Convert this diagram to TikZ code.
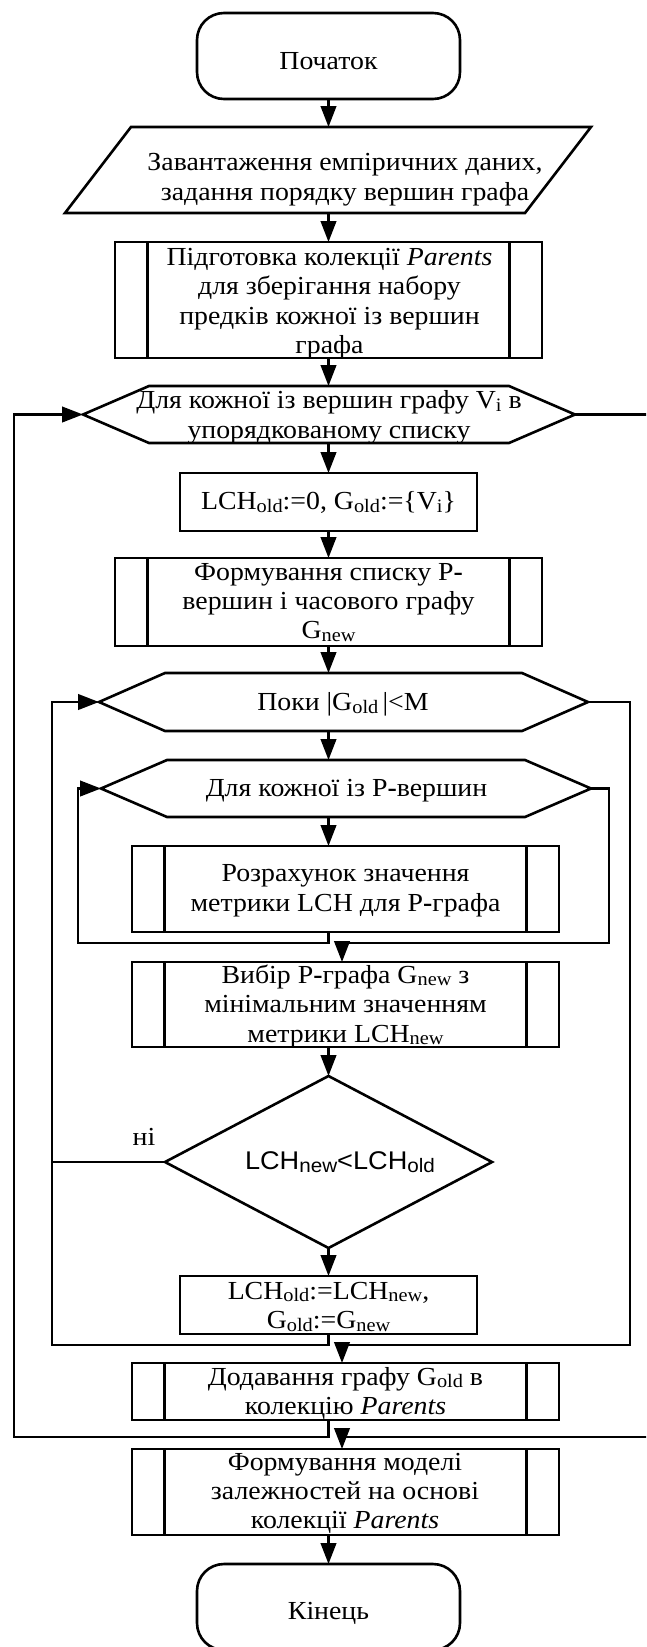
\documentclass[tikz,border=0pt]{standalone}
\usepackage{fontspec}
\setmainfont{Liberation Serif}[FakeStretch=1.07]
\newfontfamily\diagsans{Liberation Sans}[FakeStretch=1.06]
\usetikzlibrary{arrows.meta,calc}

% lowered small index text (serif and sans)
\newcommand\sbs[1]{\raisebox{-2.5pt}{\fontsize{19}{19}\selectfont #1}}
\newcommand\ssbs[1]{\raisebox{-2.5pt}{\fontsize{19.5}{19.5}\selectfont #1}}
% heavy hyphen
\newcommand\hy{\textbf{-}}
% hexagonal loop header drawn around an invisible frame node
\newcommand\hexframe[2]{%
  \draw[frame] (#1.west) -- ([xshift=#2]#1.north west) -- ([xshift=-#2]#1.north east)
    -- (#1.east) -- ([xshift=-#2]#1.south east) -- ([xshift=#2]#1.south west) -- cycle;}

\begin{document}
\begin{tikzpicture}[x=1pt,y=-1pt,
  every node/.style={inner sep=0pt,outer sep=0pt},
  frame/.style={draw,line width=2.6pt},
  term/.style={frame,rounded corners=27pt,minimum width=263pt,minimum height=86pt},
  procbox/.style={frame,minimum width=297pt},
  subbox/.style={frame,minimum width=427pt,
    path picture={
      \draw[line width=2.6pt] ([xshift=32.5pt]path picture bounding box.north west)
        -- ([xshift=32.5pt]path picture bounding box.south west);
      \draw[line width=2.6pt] ([xshift=-32.5pt]path picture bounding box.north east)
        -- ([xshift=-32.5pt]path picture bounding box.south east);}},
  lbl/.style={align=center,font=\fontsize{26}{29.3}\selectfont},
  sanslbl/.style={font=\diagsans\fontsize{25.6}{29.3}\selectfont},
  conn/.style={line width=2.6pt},
  arr/.style={conn,-{Triangle[length=21pt,width=15.5pt]}}
]
\fill[white] (0,0) rectangle (646,1647);
\useasboundingbox (0,0) rectangle (646,1647);
\clip (0,0) rectangle (646,1647);

% columns for the main flow and for the merging arrows
\coordinate (col) at (328.5,0);
\coordinate (mx) at (342,0);

% ---- shapes ----
\node[term] (start) at (328.5,56) {};
\node[lbl] (tstart) at (328.5,64.1) {\strut Початок};

\node[minimum width=526pt,minimum height=86pt] (load) at (328,170) {};
\draw[frame] ([xshift=66pt]load.north west) -- (load.north east)
  -- ([xshift=-66pt]load.south east) -- (load.south west) -- cycle;
\node[lbl] (tload) at (345,179.5)
  {\strut Завантаження емпіричних даних,\\\strut задання порядку вершин графа};

\node[subbox,minimum height=116pt] (prep) at (328.5,300) {};
\node[lbl] (tprep) at (329.5,303.5)
  {\strut Підготовка колекції \textit{Parents}\\\strut для зберігання набору\\
   \strut предків кожної із вершин\\\strut графа};

\node[minimum width=492pt,minimum height=57pt] (loopA) at (329,414.5) {};
\hexframe{loopA}{66pt}
\node[lbl] (tloopA) at (329,417.5)
  {\strut Для кожної із вершин графу V\sbs{i} в\\\strut упорядкованому списку};

\node[procbox,minimum height=58pt] (init) at (328.5,502) {};
\node[lbl] (tinit) at (328.5,504.1)
  {\strut LCH\sbs{old}:=0, G\sbs{old}:=\{V\sbs{i}\}};

\node[subbox,minimum height=88pt] (form) at (328.5,602) {};
\node[lbl] (tform) at (328.5,603.6)
  {\strut Формування списку Р\hy\\\strut вершин і часового графу\\\strut G\sbs{new}};

\node[minimum width=489pt,minimum height=58pt] (loopB) at (343.5,702) {};
\hexframe{loopB}{66pt}
\node[lbl] (tloopB) at (343,704.8) {\strut Поки |G\sbs{old}\,|<M};

\node[minimum width=490pt,minimum height=57pt] (loopC) at (346,788.5) {};
\hexframe{loopC}{66pt}
\node[lbl] (tloopC) at (346.5,790.8) {\strut Для кожної із Р\hy вершин};

\node[subbox,minimum height=86pt] (calc) at (345.5,889) {};
\node[lbl] (tcalc) at (345.5,890.6)
  {\strut Розрахунок значення\\\strut метрики LCH для Р\hy графа};

\node[subbox,minimum height=85pt] (pick) at (345.5,1004.5) {};
\node[lbl] (tpick) at (345.5,1006.9)
  {\strut Вибір Р\hy графа G\sbs{new} з\\\strut мінімальним значенням\\
   \strut метрики LCH\sbs{new}};

\node[minimum width=327pt,minimum height=172pt] (dec) at (328.5,1162) {};
\draw[frame] (dec.north) -- (dec.east) -- (dec.south) -- (dec.west) -- cycle;
\node[sanslbl] (tdec) at (340,1164.1) {\strut LCH\ssbs{new}<LCH\ssbs{old}};

\node[procbox,minimum height=58pt] (upd) at (328.5,1305) {};
\node[lbl] (tupd) at (328.5,1308.2)
  {\strut LCH\sbs{old}:=LCH\sbs{new},\\\strut G\sbs{old}:=G\sbs{new}};

\node[subbox,minimum height=57pt] (add) at (345.5,1391.5) {};
\node[lbl] (tadd) at (345.5,1393.9)
  {\strut Додавання графу G\sbs{old} в\\\strut колекцію \textit{Parents}};

\node[subbox,minimum height=86pt] (model) at (345.5,1492) {};
\node[lbl] (tmodel) at (345,1493.6)
  {\strut Формування моделі\\\strut залежностей на основі\\\strut колекції \textit{Parents}};

\node[term] (stop) at (328.5,1607) {};
\node[lbl] (tstop) at (328.5,1614.1) {\strut Кінець};

% ---- loop corner points ----
\coordinate (cL) at (78,943);
\coordinate (cR) at (609,943);
\coordinate (bL) at (52,1345);
\coordinate (bR) at (630,1345);
\coordinate (aL) at (14,1437);
\coordinate (aR) at (662,1437);

% ---- connectors ----
\draw[arr] (start.south) -- (col |- load.north);
\draw[arr] (col |- load.south) -- (prep.north);
\draw[arr] (prep.south) -- (col |- loopA.north);
\draw[arr] (col |- loopA.south) -- (init.north);
\draw[arr] (init.south) -- (form.north);
\draw[arr] (form.south) -- (col |- loopB.north);
\draw[arr] (col |- loopB.south) -- (col |- loopC.north);
\draw[arr] (col |- loopC.south) -- (col |- calc.north);
\draw[arr] (col |- calc.south) |- (cL) |- (loopC.west);
\draw[arr] (loopC.east) -| (cR) -- (cR -| mx) -- (mx |- pick.north);
\draw[arr] (col |- pick.south) -- (dec.north);
\draw[conn] (dec.west) -- (dec.west -| bL);
\node[lbl] (no) at (144,1140.1) {\strut ні};
\draw[arr] (dec.south) -- (upd.north);
\draw[arr] (upd.south) |- (bL) |- (loopB.west);
\draw[arr] (loopB.east) -| (bR) -- (bR -| mx) -- (mx |- add.north);
\draw[arr] (col |- add.south) |- (aL) |- (loopA.west);
\draw[arr] (loopA.east) -| (aR) -- (aR -| mx) -- (mx |- model.north);
\draw[arr] (col |- model.south) -- (stop.north);
\end{tikzpicture}
\end{document}
